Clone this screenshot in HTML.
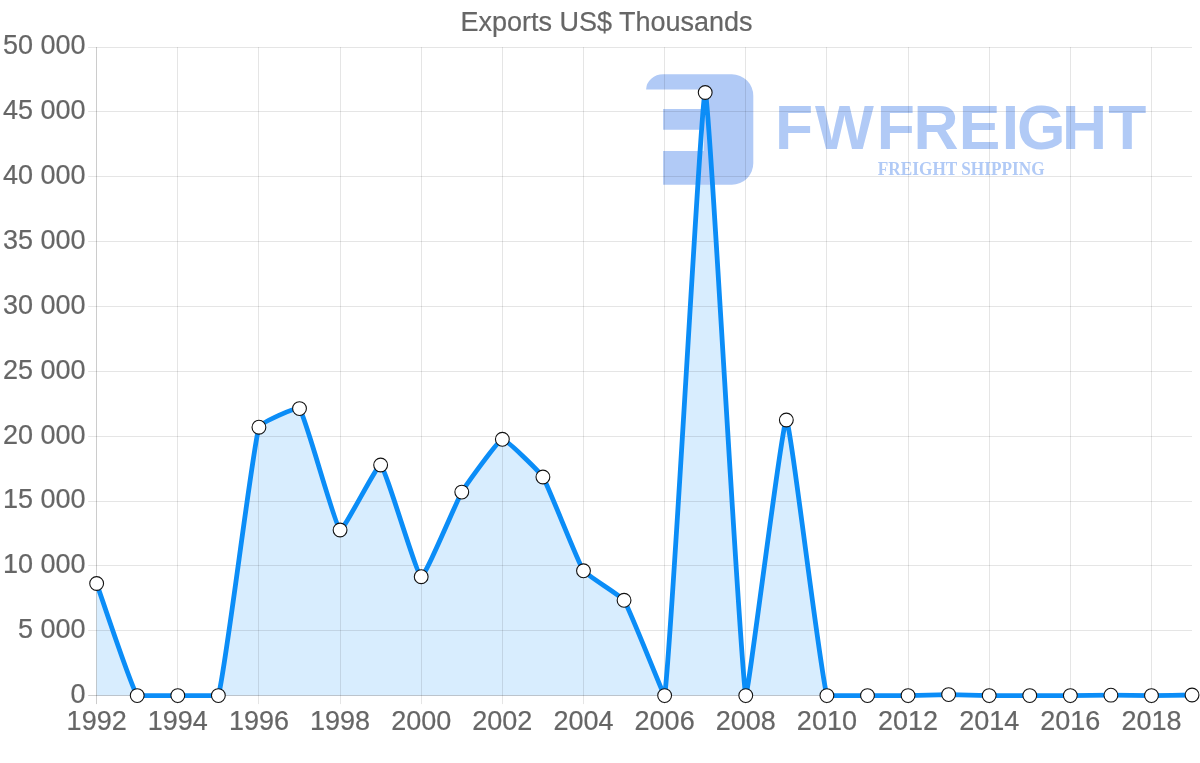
<!DOCTYPE html><html><head><meta charset="utf-8"><title>Exports US$ Thousands</title><style>html,body{margin:0;padding:0;background:#fff;overflow:hidden}svg{display:block}text{font-family:"Liberation Sans",Arial,sans-serif;fill:#666}.t text{stroke:#666;stroke-width:.2px}</style></head><body>
<svg width="1200" height="763" viewBox="0 0 1200 763">
<rect width="1200" height="763" fill="#fff"/>
<path d="M96.65 583.50 C100.71 594.71 131.17 687.24 137.22 695.60 C139.28 695.60 173.73 695.60 177.79 695.60 C181.85 695.60 217.30 695.60 218.36 695.60 C225.42 672.25 251.96 451.85 258.93 427.20 C260.08 423.15 297.40 405.94 299.50 408.60 C305.52 416.22 334.99 526.47 340.07 530.00 C343.11 532.11 377.46 463.17 380.64 465.00 C385.57 467.84 416.68 575.19 421.21 576.70 C424.79 577.90 457.03 500.14 461.78 492.10 C465.15 486.40 497.92 440.12 502.35 439.30 C506.03 438.61 540.07 472.38 542.92 477.00 C548.18 485.53 578.05 562.53 583.49 570.80 C586.16 574.86 621.41 596.23 624.06 600.30 C629.53 608.71 663.44 695.60 664.63 695.60 C671.56 652.25 701.14 92.50 705.20 92.50 C709.26 92.50 740.22 673.18 745.77 695.60 C748.33 695.60 782.28 420.00 786.34 420.00 C790.40 420.00 819.83 671.54 826.91 695.60 C827.94 695.60 863.42 695.60 867.48 695.60 C871.54 695.60 903.99 695.60 908.05 695.60 C912.11 695.55 944.56 694.60 948.62 694.60 C952.68 694.60 985.13 695.55 989.19 695.60 C993.25 695.60 1025.70 695.60 1029.76 695.60 C1033.82 695.60 1066.27 695.60 1070.33 695.60 C1074.39 695.58 1106.84 695.15 1110.90 695.15 C1114.96 695.15 1147.41 695.60 1151.47 695.60 C1155.53 695.59 1187.98 695.06 1192.04 695.00 L1192.04 695.60 L96.65 695.60 Z" fill="rgba(11,141,247,0.16)"/>
<g fill="#b1caf6">
<path d="M646.1 89.4 A17.2 15.4 0 0 1 663.3 74.3 L731.8 74.3 A21.5 21.5 0 0 1 753.3 95.8 L753.3 163.2 A21.5 21.5 0 0 1 731.8 184.7 L663.1 184.7 L663.1 150.9 L704 150.9 L704 129.7 L663.1 129.7 L663.1 109.1 L704 109.1 L704 89.4 Z"/>
<text x="775.0 815.1 876.7 913.5 958.8 1001.7 1017.0 1062.0 1108.2" y="149.2" font-size="62.35" font-weight="bold" style="fill:#b1caf6">FWFREIGHT</text>
<text x="877.8" y="174.6" font-size="18" font-weight="bold" textLength="166.8" lengthAdjust="spacingAndGlyphs" style="fill:#b1caf6;font-family:'Liberation Serif',serif">FREIGHT SHIPPING</text>
</g>
<g stroke="rgba(0,0,0,0.1)" stroke-width="1" fill="none">
<line x1="96.50" y1="47.10" x2="96.50" y2="704.10" stroke="rgba(0,0,0,0.2)"/>
<line x1="177.50" y1="47.10" x2="177.50" y2="704.10"/>
<line x1="258.50" y1="47.10" x2="258.50" y2="704.10"/>
<line x1="340.50" y1="47.10" x2="340.50" y2="704.10"/>
<line x1="421.50" y1="47.10" x2="421.50" y2="704.10"/>
<line x1="502.50" y1="47.10" x2="502.50" y2="704.10"/>
<line x1="583.50" y1="47.10" x2="583.50" y2="704.10"/>
<line x1="664.50" y1="47.10" x2="664.50" y2="704.10"/>
<line x1="745.50" y1="47.10" x2="745.50" y2="704.10"/>
<line x1="826.50" y1="47.10" x2="826.50" y2="704.10"/>
<line x1="908.50" y1="47.10" x2="908.50" y2="704.10"/>
<line x1="989.50" y1="47.10" x2="989.50" y2="704.10"/>
<line x1="1070.50" y1="47.10" x2="1070.50" y2="704.10"/>
<line x1="1151.50" y1="47.10" x2="1151.50" y2="704.10"/>
<line x1="88.15" y1="695.50" x2="1192.04" y2="695.50" stroke="rgba(0,0,0,0.2)"/>
<line x1="88.15" y1="630.50" x2="1192.04" y2="630.50"/>
<line x1="88.15" y1="565.50" x2="1192.04" y2="565.50"/>
<line x1="88.15" y1="501.50" x2="1192.04" y2="501.50"/>
<line x1="88.15" y1="436.50" x2="1192.04" y2="436.50"/>
<line x1="88.15" y1="371.50" x2="1192.04" y2="371.50"/>
<line x1="88.15" y1="306.50" x2="1192.04" y2="306.50"/>
<line x1="88.15" y1="241.50" x2="1192.04" y2="241.50"/>
<line x1="88.15" y1="176.50" x2="1192.04" y2="176.50"/>
<line x1="88.15" y1="111.50" x2="1192.04" y2="111.50"/>
<line x1="88.15" y1="47.50" x2="1192.04" y2="47.50"/>
</g>
<path d="M96.65 583.50 C100.71 594.71 131.17 687.24 137.22 695.60 C139.28 695.60 173.73 695.60 177.79 695.60 C181.85 695.60 217.30 695.60 218.36 695.60 C225.42 672.25 251.96 451.85 258.93 427.20 C260.08 423.15 297.40 405.94 299.50 408.60 C305.52 416.22 334.99 526.47 340.07 530.00 C343.11 532.11 377.46 463.17 380.64 465.00 C385.57 467.84 416.68 575.19 421.21 576.70 C424.79 577.90 457.03 500.14 461.78 492.10 C465.15 486.40 497.92 440.12 502.35 439.30 C506.03 438.61 540.07 472.38 542.92 477.00 C548.18 485.53 578.05 562.53 583.49 570.80 C586.16 574.86 621.41 596.23 624.06 600.30 C629.53 608.71 663.44 695.60 664.63 695.60 C671.56 652.25 701.14 92.50 705.20 92.50 C709.26 92.50 740.22 673.18 745.77 695.60 C748.33 695.60 782.28 420.00 786.34 420.00 C790.40 420.00 819.83 671.54 826.91 695.60 C827.94 695.60 863.42 695.60 867.48 695.60 C871.54 695.60 903.99 695.60 908.05 695.60 C912.11 695.55 944.56 694.60 948.62 694.60 C952.68 694.60 985.13 695.55 989.19 695.60 C993.25 695.60 1025.70 695.60 1029.76 695.60 C1033.82 695.60 1066.27 695.60 1070.33 695.60 C1074.39 695.58 1106.84 695.15 1110.90 695.15 C1114.96 695.15 1147.41 695.60 1151.47 695.60 C1155.53 695.59 1187.98 695.06 1192.04 695.00" fill="none" stroke="#0b8df7" stroke-width="4.8" stroke-linejoin="round" stroke-linecap="butt"/>
<g fill="#fff" stroke="#111" stroke-width="1.1">
<circle cx="96.65" cy="583.50" r="6.9"/>
<circle cx="137.22" cy="695.60" r="6.9"/>
<circle cx="177.79" cy="695.60" r="6.9"/>
<circle cx="218.36" cy="695.60" r="6.9"/>
<circle cx="258.93" cy="427.20" r="6.9"/>
<circle cx="299.50" cy="408.60" r="6.9"/>
<circle cx="340.07" cy="530.00" r="6.9"/>
<circle cx="380.64" cy="465.00" r="6.9"/>
<circle cx="421.21" cy="576.70" r="6.9"/>
<circle cx="461.78" cy="492.10" r="6.9"/>
<circle cx="502.35" cy="439.30" r="6.9"/>
<circle cx="542.92" cy="477.00" r="6.9"/>
<circle cx="583.49" cy="570.80" r="6.9"/>
<circle cx="624.06" cy="600.30" r="6.9"/>
<circle cx="664.63" cy="695.60" r="6.9"/>
<circle cx="705.20" cy="92.50" r="6.9"/>
<circle cx="745.77" cy="695.60" r="6.9"/>
<circle cx="786.34" cy="420.00" r="6.9"/>
<circle cx="826.91" cy="695.60" r="6.9"/>
<circle cx="867.48" cy="695.60" r="6.9"/>
<circle cx="908.05" cy="695.60" r="6.9"/>
<circle cx="948.62" cy="694.60" r="6.9"/>
<circle cx="989.19" cy="695.60" r="6.9"/>
<circle cx="1029.76" cy="695.60" r="6.9"/>
<circle cx="1070.33" cy="695.60" r="6.9"/>
<circle cx="1110.90" cy="695.15" r="6.9"/>
<circle cx="1151.47" cy="695.60" r="6.9"/>
<circle cx="1192.04" cy="695.00" r="6.9"/>
</g>
<g class="t">
<text x="606.5" y="30.7" font-size="27" text-anchor="middle">Exports US$ Thousands</text>
<g font-size="27" text-anchor="end">
<text x="85.5" y="702.90">0</text>
<text x="85.5" y="638.05">5 000</text>
<text x="85.5" y="573.20">10 000</text>
<text x="85.5" y="508.35">15 000</text>
<text x="85.5" y="443.50">20 000</text>
<text x="85.5" y="378.65">25 000</text>
<text x="85.5" y="313.80">30 000</text>
<text x="85.5" y="248.95">35 000</text>
<text x="85.5" y="184.10">40 000</text>
<text x="85.5" y="119.25">45 000</text>
<text x="85.5" y="54.40">50 000</text>
</g>
<g font-size="27" text-anchor="middle">
<text x="96.65" y="730">1992</text>
<text x="177.79" y="730">1994</text>
<text x="258.93" y="730">1996</text>
<text x="340.07" y="730">1998</text>
<text x="421.21" y="730">2000</text>
<text x="502.35" y="730">2002</text>
<text x="583.49" y="730">2004</text>
<text x="664.63" y="730">2006</text>
<text x="745.77" y="730">2008</text>
<text x="826.91" y="730">2010</text>
<text x="908.05" y="730">2012</text>
<text x="989.19" y="730">2014</text>
<text x="1070.33" y="730">2016</text>
<text x="1151.47" y="730">2018</text>
</g>
</g>
</svg></body></html>
